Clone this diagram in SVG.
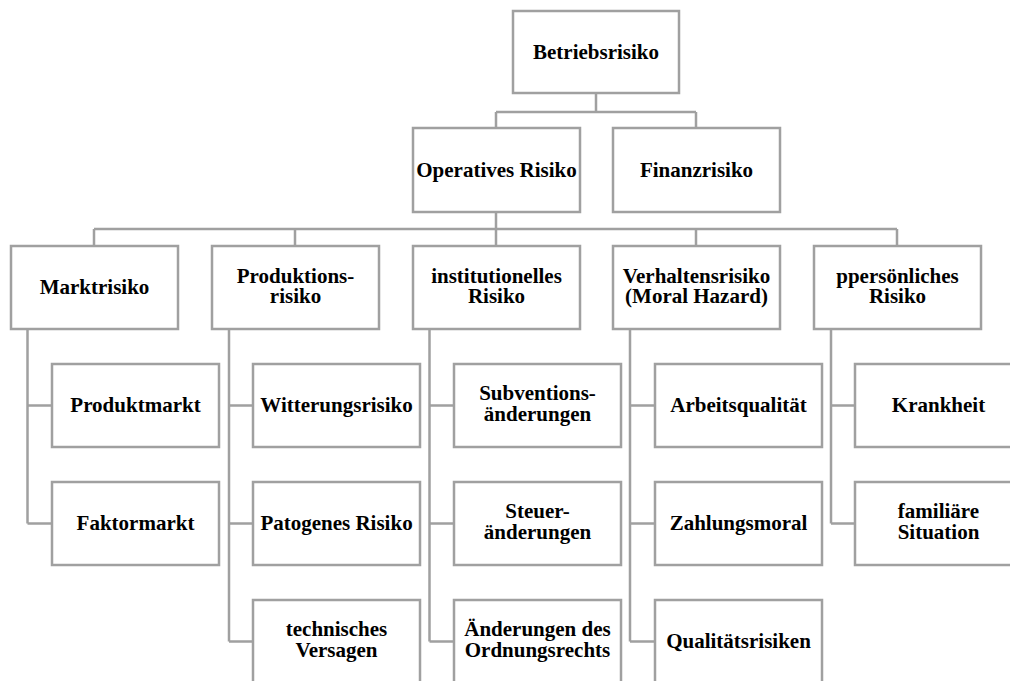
<svg xmlns="http://www.w3.org/2000/svg" width="1010" height="681" viewBox="0 0 1010 681">
<style>
.b{fill:#fff;stroke:#a0a0a0;stroke-width:2.5}
.c{fill:none;stroke:#a0a0a0;stroke-width:2.5}
text{font-family:"Liberation Serif","Times New Roman",serif;font-weight:bold;font-size:21px;fill:#000;text-anchor:middle}
</style>
<rect width="1010" height="681" fill="#fff"/>
<g id="connectors" class="c">
<path d="M596 93V112M496 112H696M496 112V128M696 112V128"/>
<path d="M496 212V229M94 229H897M94 229V246M295 229V246M496 229V246M696 229V246M897 229V246"/>
<path d="M27.5 329V523.5M27.5 405.5H52M27.5 523.5H52"/>
<path d="M229 329V641.5M229 405.5H253M229 523.5H253M229 641.5H253"/>
<path d="M429.5 329V641.5M429.5 405.5H454M429.5 523.5H454M429.5 641.5H454"/>
<path d="M630 329V641.5M630 405.5H655M630 523.5H655M630 641.5H655"/>
<path d="M831 329V523.5M831 405.5H855M831 523.5H855"/>
</g>
<g id="betriebsrisiko"><rect class="b" x="513" y="11" width="166" height="82"/><text x="596" y="58.5">Betriebsrisiko</text></g>
<g id="operatives"><rect class="b" x="413" y="128" width="167" height="84"/><text x="496.5" y="176.5">Operatives Risiko</text></g>
<g id="finanz"><rect class="b" x="613" y="128" width="167" height="84"/><text x="696.5" y="176.5">Finanzrisiko</text></g>

<g id="markt"><rect class="b" x="11" y="246" width="167" height="83"/><text x="94.5" y="294">Marktrisiko</text></g>
<g id="produktion"><rect class="b" x="212" y="246" width="167" height="83"/><text x="295.5" y="282.5">Produktions-</text><text x="295.5" y="303">risiko</text></g>
<g id="institutionell"><rect class="b" x="413" y="246" width="167" height="83"/><text x="496.5" y="282.5">institutionelles</text><text x="496.5" y="303">Risiko</text></g>
<g id="verhalten"><rect class="b" x="613" y="246" width="167" height="83"/><text x="696.5" y="282.5">Verhaltensrisiko</text><text x="696.5" y="303">(Moral Hazard)</text></g>
<g id="persoenlich"><rect class="b" x="814" y="246" width="167" height="83"/><text x="897.5" y="282.5">ppersönliches</text><text x="897.5" y="303">Risiko</text></g>

<g id="produktmarkt"><rect class="b" x="52" y="364" width="167" height="83"/><text x="135.5" y="412">Produktmarkt</text></g>
<g id="faktormarkt"><rect class="b" x="52" y="482" width="167" height="83"/><text x="135.5" y="530">Faktormarkt</text></g>

<g id="witterung"><rect class="b" x="253" y="364" width="167" height="83"/><text x="336.5" y="412">Witterungsrisiko</text></g>
<g id="patogen"><rect class="b" x="253" y="482" width="167" height="83"/><text x="336.5" y="530">Patogenes Risiko</text></g>
<g id="technisch"><rect class="b" x="253" y="600" width="167" height="83"/><text x="336.5" y="636">technisches</text><text x="336.5" y="656.5">Versagen</text></g>

<g id="subvention"><rect class="b" x="454" y="364" width="167" height="83"/><text x="537.5" y="400">Subventions-</text><text x="537.5" y="420.5">änderungen</text></g>
<g id="steuer"><rect class="b" x="454" y="482" width="167" height="83"/><text x="537.5" y="518">Steuer-</text><text x="537.5" y="538.5">änderungen</text></g>
<g id="ordnungsrecht"><rect class="b" x="454" y="600" width="167" height="83"/><text x="537.5" y="636">Änderungen des</text><text x="537.5" y="656.5">Ordnungsrechts</text></g>

<g id="arbeitsqualitaet"><rect class="b" x="655" y="364" width="167" height="83"/><text x="738.5" y="412">Arbeitsqualität</text></g>
<g id="zahlungsmoral"><rect class="b" x="655" y="482" width="167" height="83"/><text x="738.5" y="530">Zahlungsmoral</text></g>
<g id="qualitaetsrisiken"><rect class="b" x="655" y="600" width="167" height="83"/><text x="738.5" y="648">Qualitätsrisiken</text></g>

<g id="krankheit"><rect class="b" x="855" y="364" width="167" height="83"/><text x="938.5" y="412">Krankheit</text></g>
<g id="familie"><rect class="b" x="855" y="482" width="167" height="83"/><text x="938.5" y="518">familiäre</text><text x="938.5" y="538.5">Situation</text></g>
</svg>
